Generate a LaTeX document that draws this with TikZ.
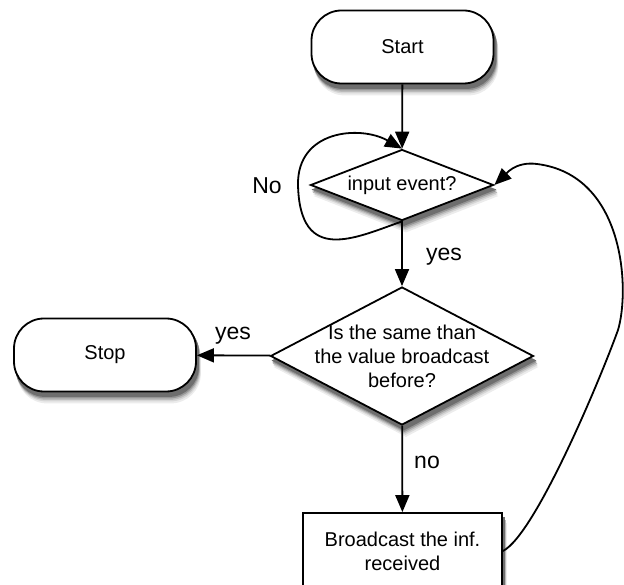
\documentclass[tikz,border=0pt]{standalone}
\usepackage{fontspec}
\setmainfont{Liberation Sans}
\usetikzlibrary{arrows.meta,shapes.geometric,backgrounds}
\definecolor{shadowA}{RGB}{236,236,236}
\definecolor{shadowB}{RGB}{214,214,214}
\definecolor{shadowC}{RGB}{186,186,186}
\definecolor{shadowD}{RGB}{150,150,150}
\definecolor{shadowE}{RGB}{110,110,110}
\begin{document}
\begin{tikzpicture}[x=1pt,y=-1pt,
  every node/.style={font=\fontsize{20}{24}\selectfont},
  base/.style={draw=black, line width=1.8pt, fill=white},
  terminal/.style={base, rounded corners=30pt, minimum width=182pt,
    minimum height=73pt, inner sep=0pt},
  decision/.style={base, diamond, inner sep=0pt},
  process/.style={base, minimum width=199pt, minimum height=76pt,
    inner sep=0pt, align=center},
  txt/.style={align=center, inner sep=0pt},
  lbl/.style={font=\fontsize{23}{27}\selectfont, inner sep=0pt},
  flow/.style={line width=1.8pt, -{Triangle[length=17pt,width=14pt]}},
]
\useasboundingbox (0,0) rectangle (624,585);

% nodes
\node[terminal] (start) at (402.5,47) {Start};
\node[decision, minimum width=183pt, minimum height=71pt] (q1) at (402,185) {};
\node[txt] (q1t) at (q1) {input event?};
\node[decision, minimum width=263pt, minimum height=138pt] (q2) at (402,356) {};
\node[txt] (q2t) at (q2) {Is the same than\\the value broadcast\\before?};
\node[terminal] (stop) at (105,355) {Stop};
\node[process] (bc) at (402.5,551) {Broadcast the inf.\\received};

% soft shadows: stacked grey copies of each outline, offset downwards
\begin{scope}[on background layer]
\foreach \dx/\dy/\c in {4/11/shadowA, 3.5/9/shadowB, 3/7.5/shadowC, 2.5/6/shadowD, 2/4.5/shadowE}{
  \fill[\c, rounded corners=30pt]
    ([shift={(\dx,\dy)}]start.north west) rectangle ([shift={(\dx,\dy)}]start.south east);
  \fill[\c, rounded corners=30pt]
    ([shift={(\dx,\dy)}]stop.north west) rectangle ([shift={(\dx,\dy)}]stop.south east);
  \fill[\c]
    ([shift={(\dx,\dy)}]bc.north west) rectangle ([shift={(\dx,\dy)}]bc.south east);
  \fill[\c]
    ([shift={(\dx,\dy)}]q1.north) -- ([shift={(\dx,\dy)}]q1.east) --
    ([shift={(\dx,\dy)}]q1.south) -- ([shift={(\dx,\dy)}]q1.west) -- cycle;
  \fill[\c]
    ([shift={(\dx,\dy)}]q2.north) -- ([shift={(\dx,\dy)}]q2.east) --
    ([shift={(\dx,\dy)}]q2.south) -- ([shift={(\dx,\dy)}]q2.west) -- cycle;
}
\end{scope}

% straight connectors
\draw[flow] (start) -- (q1);
\draw[flow] (q1) -- (q2);
\draw[flow] (q2) -- (stop);
\draw[flow] (q2) -- (bc);

% "No" loop back into the first decision
\draw[flow] (q1.south) .. controls (355,238) and (300,265) .. (298,185)
  .. controls (297,130) and (360,125) .. (q1.north);

% return path from the broadcast step
\draw[flow] (bc.east) .. controls (535,535) and (600,380) .. (618,330)
  .. controls (630,290) and (625,175) .. (537,164)
  .. controls (515,161) and (505,175) .. (q1.east);

% branch labels
\node[lbl] (lno1) at (267,186) {No};
\node[lbl] (lyes1) at (444,257) {yes};
\node[lbl] (lyes2) at (233,336) {yes};
\node[lbl] (lno2) at (427,462) {no};
\end{tikzpicture}
\end{document}
